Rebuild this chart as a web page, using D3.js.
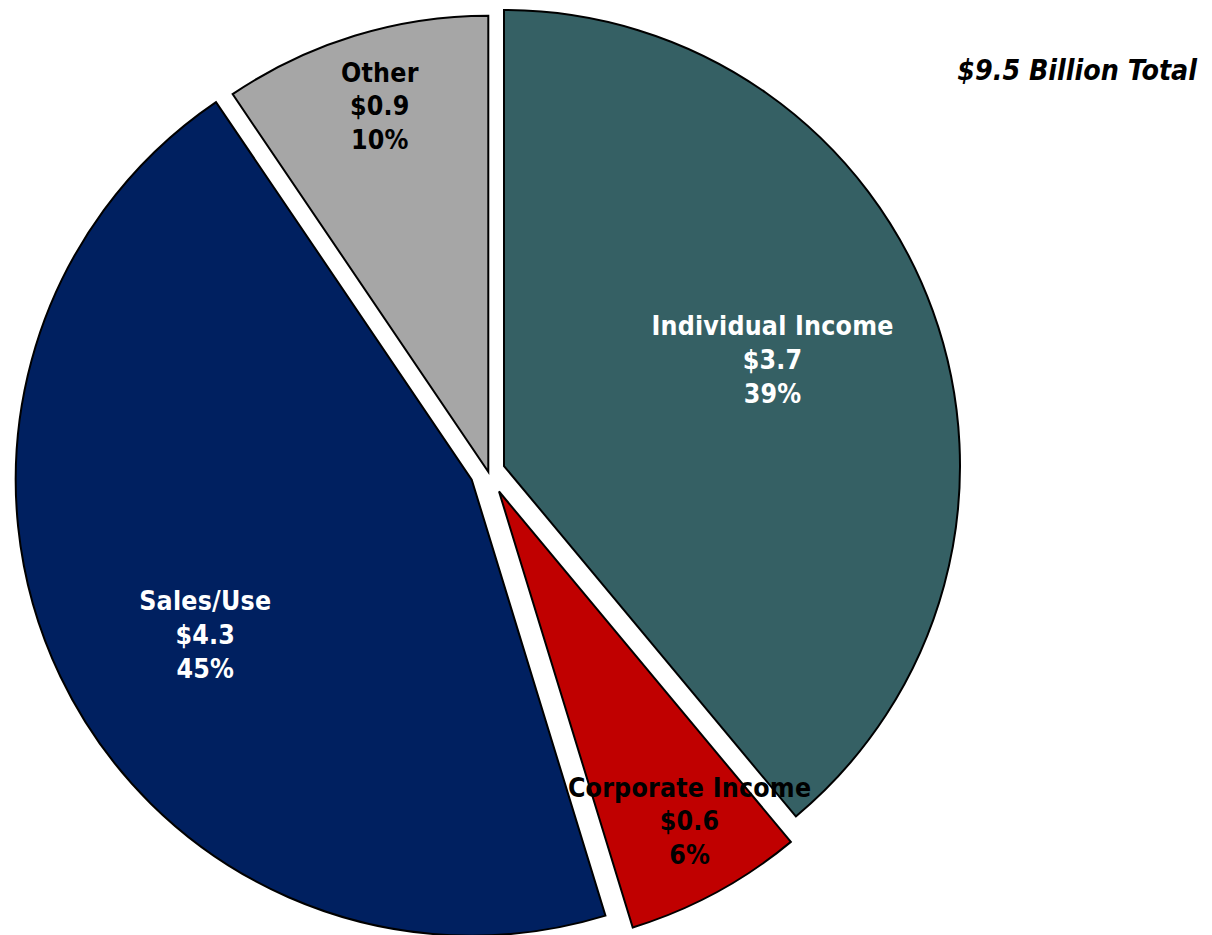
<!DOCTYPE html>
<html>
<head>
<meta charset="utf-8">
<script src="https://cdn.jsdelivr.net/npm/d3@7"></script>
<style>
  html, body { margin: 0; padding: 0; background: #fff; }
  svg { display: block; }
  .lbl { font-family: "DejaVu Sans Condensed", "DejaVu Sans", sans-serif; font-weight: bold; letter-spacing: 0.2px; }
  .ttl { font-family: "DejaVu Sans Condensed", "DejaVu Sans", sans-serif; font-weight: bold; font-style: italic; }
</style>
</head>
<body>
<svg id="chart" width="1212" height="935"></svg>
<script>
// Revenue by source, billions of dollars
const categories = ["Individual Income", "Corporate Income", "Sales/Use", "Other"];
const values = [3.7, 0.6, 4.3, 0.9];
const valueLabels = ["$3.7", "$0.6", "$4.3", "$0.9"];
const percentLabels = ["39%", "6%", "45%", "10%"];
const totalLabel = "$9.5 Billion Total";

// Styling and layout
const fills = ["#356064", "#c00000", "#002060", "#a6a6a6"];
const textFills = ["#ffffff", "#000000", "#ffffff", "#000000"];
const explode = [16.7, 22.5, 18.4, 0];          // px each slice is pulled out
const labelPolar = [                            // label anchor from slice apex
  { r: 289, a: 68.3 },
  { r: 380, a: 149.9 },
  { r: 308, a: 239.9 },
  { r: 382, a: 343.5 }
];

const W = 1212, H = 935;
const cx = 488.3, cy = 471.7, R = 456;
const fontSize = 26.5, lineGap = 33.7;

const svg = d3.select("#chart");

const pie = d3.pie().sort(null).value(d => d);
const arc = d3.arc().innerRadius(0).outerRadius(R);
const arcs = pie(values);

const g = svg.append("g").attr("transform", `translate(${cx},${cy})`);

const slices = g.selectAll("g.slice")
  .data(arcs)
  .join("g")
  .attr("class", "slice")
  .attr("transform", (d, i) => {
    const mid = (d.startAngle + d.endAngle) / 2;
    return `translate(${explode[i] * Math.sin(mid)},${-explode[i] * Math.cos(mid)})`;
  });

slices.append("path")
  .attr("d", arc)
  .attr("fill", (d, i) => fills[i])
  .attr("stroke", "#000")
  .attr("stroke-width", 2)
  .attr("stroke-linejoin", "miter");

// Three-line labels: name, amount, share
slices.each(function (d, i) {
  const p = labelPolar[i];
  const a = p.a * Math.PI / 180;
  const x = p.r * Math.sin(a), y = -p.r * Math.cos(a);
  const t = d3.select(this).append("text")
    .attr("class", "lbl")
    .attr("text-anchor", "middle")
    .attr("font-size", fontSize)
    .attr("fill", textFills[i]);
  [categories[i], valueLabels[i], percentLabels[i]].forEach((s, k) => {
    t.append("tspan")
      .attr("x", x)
      .attr("y", y + 10 + (k - 1) * lineGap)
      .text(s);
  });
});

// Lift the corporate slice's label above the neighbouring slice
g.selectAll("g.slice").filter((d, i) => i === 1).raise();

svg.append("text")
  .attr("class", "ttl")
  .attr("x", 1197)
  .attr("y", 80)
  .attr("text-anchor", "end")
  .attr("font-size", 28.3)
  .attr("fill", "#000")
  .text(totalLabel);
</script>
</body>
</html>
